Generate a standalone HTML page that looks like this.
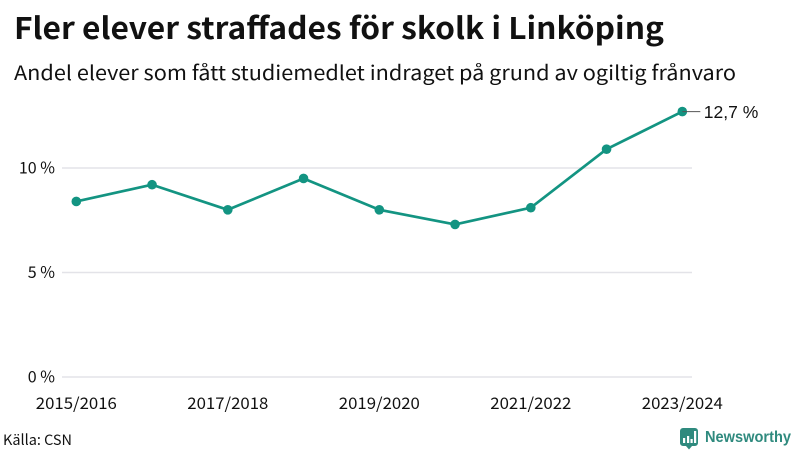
<!DOCTYPE html>
<html lang="sv">
<head>
<meta charset="utf-8">
<title>Fler elever straffades för skolk i Linköping</title>
<style>
html,body{margin:0;padding:0;background:#fff;width:800px;height:450px;overflow:hidden}
svg{display:block}
text{font-family:"Noto Sans CJK JP","DejaVu Sans",sans-serif;fill:#111}
.lib{font-family:"Liberation Sans",sans-serif}
</style>
</head>
<body>
<svg id="chart" width="800" height="450" viewBox="0 0 800 450" xmlns="http://www.w3.org/2000/svg">
  <text x="14" y="39" font-size="30" font-weight="700" textLength="650" lengthAdjust="spacingAndGlyphs">Fler elever straffades för skolk i Linköping</text>
  <text x="14" y="80" font-size="20" textLength="722" lengthAdjust="spacingAndGlyphs">Andel elever som fått studiemedlet indraget på grund av ogiltig frånvaro</text>
  <g id="grid"></g>
  <g id="yticks"></g>
  <g id="xticks"></g>
  <path id="series-line" fill="none" stroke="#139482" stroke-width="2.7" stroke-linejoin="round"></path>
  <g id="points"></g>
  <line id="end-leader" stroke="#555" stroke-width="1"></line>
  <text id="end-label" class="lib" font-size="17.5"></text>
  <text x="3" y="445" font-size="14.5" textLength="69" lengthAdjust="spacingAndGlyphs">Källa: CSN</text>
  <g>
    <path d="M683 428h12a3 3 0 0 1 3 3v12a3 3 0 0 1-3 3h-3l-3 3.500-3-3.500h-3a3 3 0 0 1-3-3v-12a3 3 0 0 1 3-3z" fill="#2f8a7e"></path>
    <rect x="683" y="438" width="2.200" height="5" fill="#fff"></rect>
    <rect x="687" y="436" width="2.200" height="7" fill="#fff"></rect>
    <rect x="690.500" y="439" width="2.200" height="4" fill="#fff"></rect>
    <rect x="694" y="431" width="2.200" height="12" fill="#fff"></rect>
    <text class="lib" x="705" y="442" font-size="15.500" font-weight="700" textLength="86" lengthAdjust="spacingAndGlyphs" style="fill:#2f8a7e">Newsworthy</text>
  </g>
</svg>
<script>
const categories = ["2015/2016","2016/2017","2017/2018","2018/2019","2019/2020","2020/2021","2021/2022","2022/2023","2023/2024"];
const seriesValues = [8.4, 9.2, 8.0, 9.5, 8.0, 7.3, 8.1, 10.9, 12.7];
const yTickValues = [0, 5, 10];
const yTickLabels = ["0 %", "5 %", "10 %"];
const xTickLabels = ["2015/2016","2017/2018","2019/2020","2021/2022","2023/2024"];
const endValueLabel = "12,7 %";

const NS = "http://www.w3.org/2000/svg";
const xLeft = 76.3, xRight = 682.3, yZero = 377, yTen = 168;
function xScale(i){ return xLeft + i * (xRight - xLeft) / (categories.length - 1); }
function yScale(v){ return yZero + v * (yTen - yZero) / 10; }

const grid = document.getElementById("grid");
const yticks = document.getElementById("yticks");
yTickValues.forEach(function(v, i){
  const l = document.createElementNS(NS, "line");
  l.setAttribute("x1", 62);
  l.setAttribute("x2", 692);
  l.setAttribute("y1", yScale(v));
  l.setAttribute("y2", yScale(v));
  l.setAttribute("stroke", "#e3e3e8");
  l.setAttribute("stroke-width", "1.5");
  
  
  grid.appendChild(l);
  const t = document.createElementNS(NS, "text");
  t.setAttribute("x", 55);
  t.setAttribute("y", yScale(v) + 5.5);
  t.setAttribute("text-anchor", "end");
  t.setAttribute("font-size", "16");
  t.textContent = yTickLabels[i];
  
  
  yticks.appendChild(t);
});

const xticks = document.getElementById("xticks");
xTickLabels.forEach(function(label){
  const t = document.createElementNS(NS, "text");
  t.setAttribute("x", xScale(categories.indexOf(label)));
  t.setAttribute("y", 409);
  t.setAttribute("text-anchor", "middle");
  t.setAttribute("font-size", "16");
  t.setAttribute("textLength", "81");
  t.setAttribute("lengthAdjust", "spacingAndGlyphs");
  t.textContent = label;
  
  
  xticks.appendChild(t);
});

document.getElementById("series-line").setAttribute("d",
  seriesValues.map(function(v, i){ return (i ? "L" : "M") + xScale(i) + " " + yScale(v); }).join(""));

const points = document.getElementById("points");
seriesValues.forEach(function(v, i){
  const c = document.createElementNS(NS, "circle");
  c.setAttribute("cx", xScale(i));
  c.setAttribute("cy", yScale(v));
  c.setAttribute("r", "4.8");
  c.setAttribute("fill", "#139482");
  
  
  points.appendChild(c);
});

const lastIndex = seriesValues.length - 1;
const lastY = yScale(seriesValues[lastIndex]);
const leader = document.getElementById("end-leader");
leader.setAttribute("x1", xScale(lastIndex));
leader.setAttribute("x2", xScale(lastIndex) + 18);
leader.setAttribute("y1", lastY);
leader.setAttribute("y2", lastY);
const endLabel = document.getElementById("end-label");
endLabel.setAttribute("x", xScale(lastIndex) + 21.5);
endLabel.setAttribute("y", lastY + 6.5);
endLabel.textContent = endValueLabel;
</script>
</body>
</html>
